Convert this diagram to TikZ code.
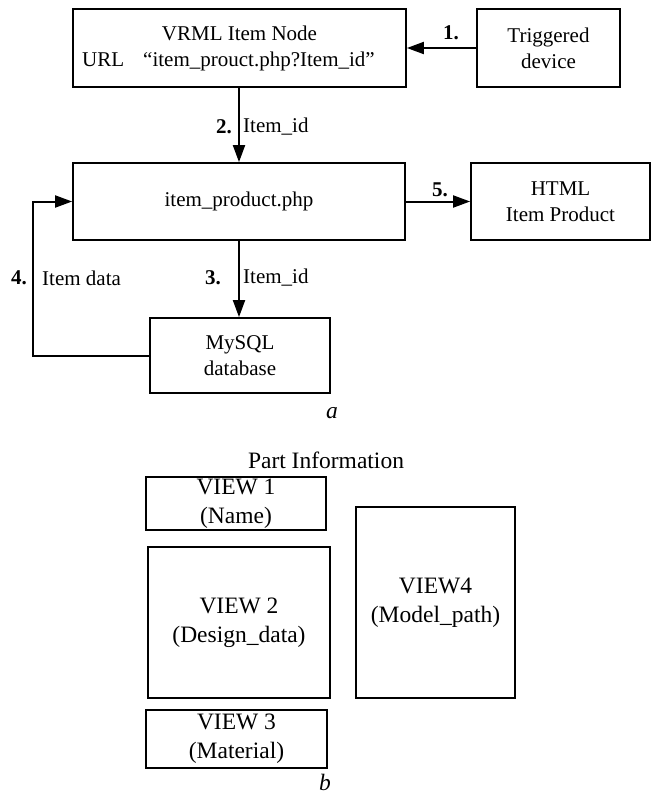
\documentclass[tikz,border=0pt]{standalone}
\usepackage{fontspec}
\setmainfont{Liberation Serif}
\usetikzlibrary{arrows.meta}
\begin{document}
\begin{tikzpicture}[x=1pt,y=-1pt,
  box/.style={draw,line width=1.8pt,inner sep=0pt,align=center,font=\fontsize{21}{26}\selectfont},
  vbox/.style={draw,line width=1.9pt,inner sep=0pt,align=center,font=\fontsize{23.5}{29}\selectfont},
  arr/.style={line width=2pt,-{Triangle[length=17pt,width=12pt]}},
  lab/.style={inner sep=0pt,font=\fontsize{21}{26}\selectfont},
  num/.style={inner sep=0pt,font=\fontsize{21}{26}\selectfont\bfseries},
  subcap/.style={inner sep=0pt,font=\fontsize{23.5}{29}\selectfont\itshape}]
\useasboundingbox (0,0) rectangle (652,796);

% part a
\node[box,minimum width=333pt,minimum height=78pt] (vrml) at (239.5,48) {VRML Item Node\\URL\hspace{19pt}“item\_prouct.php?Item\_id”\kern22pt};
\node[box,minimum width=143pt,minimum height=78pt] (trig) at (548.5,48) {Triggered\\device};
\node[box,minimum width=332pt,minimum height=77pt] (php) at (239,201.5) {item\_product.php};
\node[box,minimum width=179pt,minimum height=77pt] (html) at (560.5,201.5) {HTML\\Item Product};
\node[box,minimum width=180pt,minimum height=75pt] (mysql) at (240,355.5) {MySQL\\database};

\draw[arr] (trig.west) -- (vrml.east);
\draw[arr] (php.north |- vrml.south) -- (php.north);
\draw[arr] (php.south) -- (php.south |- mysql.north);
\draw[arr] (php.east) -- (html.west);
\coordinate (c4) at (33,355.5);
\draw[arr] (mysql.west) -- (c4) |- (php.west);

\node[num] (n1) at (451,33) {1.};
\node[num] (n2) at (224,127) {2.};
\node[lab,anchor=west] (l2) at (243,127) {Item\_id};
\node[num] (n3) at (213,278) {3.};
\node[lab,anchor=west] (l3) at (243,278) {Item\_id};
\node[num] (n4) at (19,278) {4.};
\node[lab,anchor=west] (l4) at (42,278) {Item data};
\node[num] (n5) at (440,190) {5.};
\node[subcap] (capa) at (332,413) {a};

% part b
\node[inner sep=0pt,font=\fontsize{23.5}{29}\selectfont] (title) at (326,460) {Part Information};
\node[vbox,minimum width=180pt,minimum height=53pt] (v1) at (236,503.5) {VIEW 1\\(Name)};
\node[vbox,minimum width=182pt,minimum height=151pt] (v2) at (239,622.5) {VIEW 2\\(Design\_data)};
\node[vbox,minimum width=181pt,minimum height=58pt] (v3) at (236.5,739) {VIEW 3\\(Material)};
\node[vbox,minimum width=159pt,minimum height=191pt] (v4) at (435.5,602.5) {VIEW4\\(Model\_path)};
\node[subcap] (capb) at (325,782) {b};
\end{tikzpicture}
\end{document}
